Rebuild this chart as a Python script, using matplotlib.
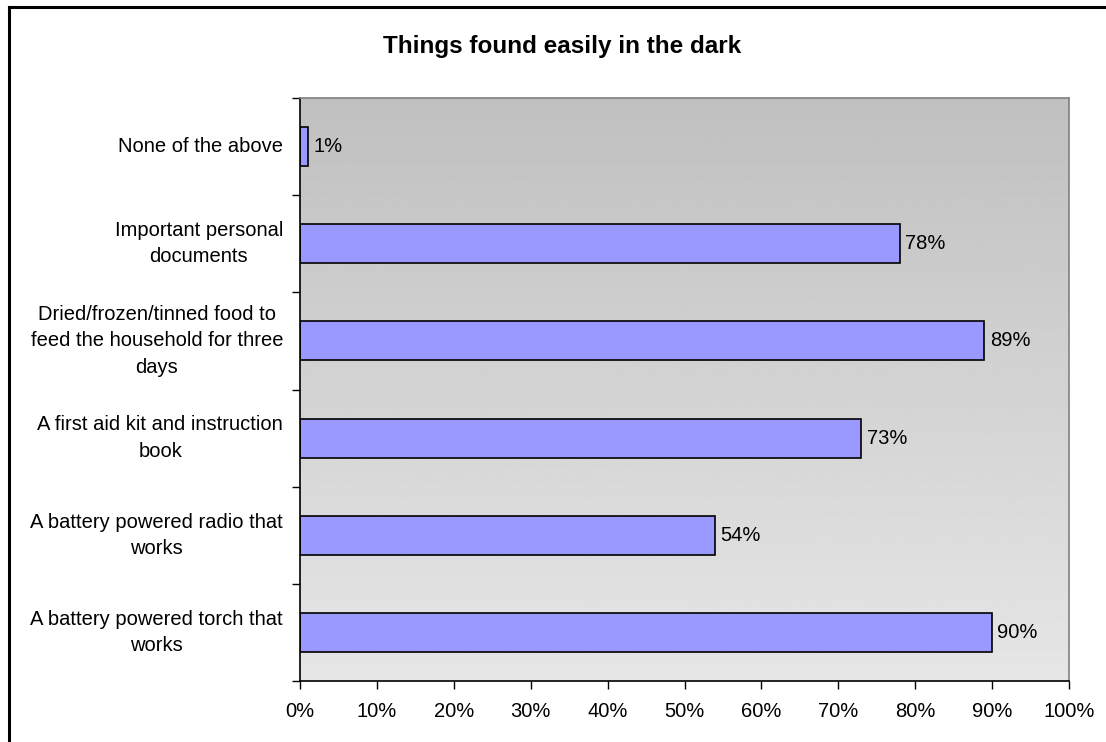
import numpy as np
import matplotlib
matplotlib.use("Agg")
import matplotlib.pyplot as plt
from matplotlib.lines import Line2D

plt.rcParams["font.family"] = ["Liberation Sans", "DejaVu Sans"]

# survey items, bottom to top
items = [
    "A battery powered torch that\nworks",
    "A battery powered radio that\nworks",
    "A first aid kit and instruction\nbook",
    "Dried/frozen/tinned food to\nfeed the household for three\ndays",
    "Important personal\ndocuments",
    "None of the above",
]
percent = [90, 54, 73, 89, 78, 1]
x_ticks = list(range(0, 101, 10))

FS = 14.5
W, H = 1106, 742
fig = plt.figure(figsize=(W / 100, H / 100), dpi=100)
ax = fig.add_axes([300 / W, 1 - 681 / H, 769 / W, 583 / H])

# outer chart border (left and top edges)
fig.add_artist(Line2D([9 / W, 9 / W], [0, 1 - 7 / H], color="black", lw=2.2))
fig.add_artist(Line2D([9 / W, 1], [1 - 7 / H, 1 - 7 / H], color="black", lw=2.2))

# gradient plot area: darker at the top, lighter at the bottom
grad = np.linspace(230, 192, 256).reshape(-1, 1) / 255.0
ax.imshow(grad, cmap="gray", vmin=0, vmax=1, aspect="auto",
          extent=[0, 100, -0.5, len(items) - 0.5], origin="lower", zorder=0)

y = np.arange(len(items))
ax.barh(y, percent, height=0.4, color="#9999ff", edgecolor="black",
        linewidth=1.2, zorder=2)
for yi, v in zip(y, percent):
    ax.text(v + 0.7, yi, f"{v}%", va="center", ha="left", fontsize=FS, zorder=3)

ax.set_xlim(0, 100)
ax.set_ylim(-0.5, len(items) - 0.5)
ax.set_xticks(x_ticks)
ax.set_xticklabels([f"{t}%" for t in x_ticks], fontsize=FS)
ax.tick_params(axis="x", length=6, width=1, direction="out", pad=9)

# y ticks sit between categories, labels centred on the bars
ax.set_yticks(np.arange(-0.5, len(items), 1.0))
ax.set_yticklabels([])
ax.tick_params(axis="y", length=6, width=1, direction="out")
for yi, name in zip(y, items):
    ax.text(-2.2, yi, name, ha="right", va="center", multialignment="center",
            linespacing=1.5, fontsize=FS, transform=ax.transData)

for side in ("left", "bottom"):
    ax.spines[side].set_color("black")
    ax.spines[side].set_linewidth(1.2)
for side in ("top", "right"):
    ax.spines[side].set_color("#808080")
    ax.spines[side].set_linewidth(1.2)

fig.text(562 / W, 1 - 47 / H, "Things found easily in the dark", ha="center",
         va="center", fontsize=17.5, fontweight="bold")

fig.savefig("out.png", dpi=100)
